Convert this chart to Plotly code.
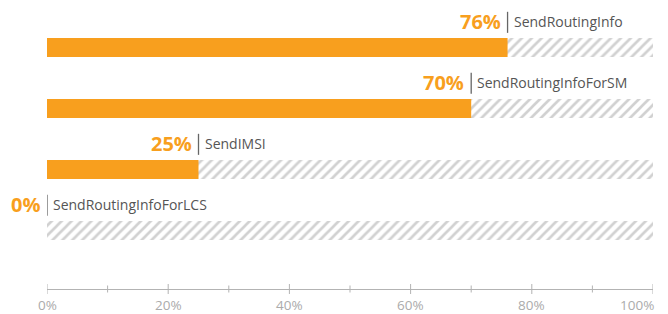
import plotly.graph_objects as go

categories = ["SendRoutingInfo", "SendRoutingInfoForSM", "SendIMSI", "SendRoutingInfoForLCS"]
values = [76, 70, 25, 0]
total = [100, 100, 100, 100]
major_ticks = [0, 20, 40, 60, 80, 100]
minor_ticks = [10, 30, 50, 70, 90]
tick_labels = ["0%", "20%", "40%", "60%", "80%", "100%"]

ORANGE = "#F89F1E"
GREY_TEXT = "#555555"
AXIS = "#b3b3b3"

ypos = list(range(len(categories)))
bw = 0.31

fig = go.Figure()
fig.add_trace(go.Bar(
    x=total, y=ypos, orientation="h", width=bw,
    marker=dict(color="white", line=dict(width=0),
                pattern=dict(shape="/", fgcolor="#a3a3a3", bgcolor="white", size=7, solidity=0.38)),
    hoverinfo="skip", showlegend=False,
))
fig.add_trace(go.Bar(
    x=values, y=ypos, orientation="h", width=bw,
    marker=dict(color=ORANGE, line=dict(width=0)),
    showlegend=False,
))

shapes = []
annotations = []
for i, (c, v) in enumerate(zip(categories, values)):
    shapes.append(dict(type="line", xref="x", yref="y", x0=v, x1=v,
                       y0=i - 0.24, y1=i - 0.585, line=dict(color="#666666", width=1.3)))
    annotations.append(dict(x=v, y=i - 0.43, xref="x", yref="y", text=f"<b>{v}%</b>",
                            showarrow=False, xanchor="right", xshift=-5,
                            font=dict(family="Open Sans", size=20, color=ORANGE)))
    annotations.append(dict(x=v, y=i - 0.43, xref="x", yref="y", text=c,
                            showarrow=False, xanchor="left", xshift=4,
                            font=dict(family="Open Sans", size=14, color=GREY_TEXT)))

for t in major_ticks:
    shapes.append(dict(type="line", xref="x", yref="paper", ysizemode="pixel", yanchor=0,
                       x0=t, x1=t, y0=-5, y1=5, line=dict(color=AXIS, width=1)))
for t in minor_ticks:
    shapes.append(dict(type="line", xref="x", yref="paper", ysizemode="pixel", yanchor=0,
                       x0=t, x1=t, y0=-3.5, y1=3.5, line=dict(color=AXIS, width=1)))

last = len(major_ticks) - 1
for k, (t, lab) in enumerate(zip(major_ticks, tick_labels)):
    annotations.append(dict(x=t, y=0, xref="x", yref="paper", text=lab, showarrow=False,
                            xanchor="right" if k == last else "center",
                            xshift=3 if k == last else 0,
                            yanchor="middle", yshift=-16,
                            font=dict(family="Open Sans", size=13.5, color="#ababab")))

fig.update_layout(
    width=660, height=306,
    margin=dict(l=38.5, r=15, t=0, b=25, autoexpand=False),
    paper_bgcolor="white", plot_bgcolor="white",
    barmode="overlay",
    shapes=shapes, annotations=annotations,
    xaxis=dict(range=[0, 100], showticklabels=False,
               showgrid=False, zeroline=False, showline=True, linecolor=AXIS, linewidth=1,
               ticks="", automargin=False, fixedrange=True),
    yaxis=dict(range=[3.959, -0.6475], visible=False, fixedrange=True),
)

fig.write_html("out.html")
